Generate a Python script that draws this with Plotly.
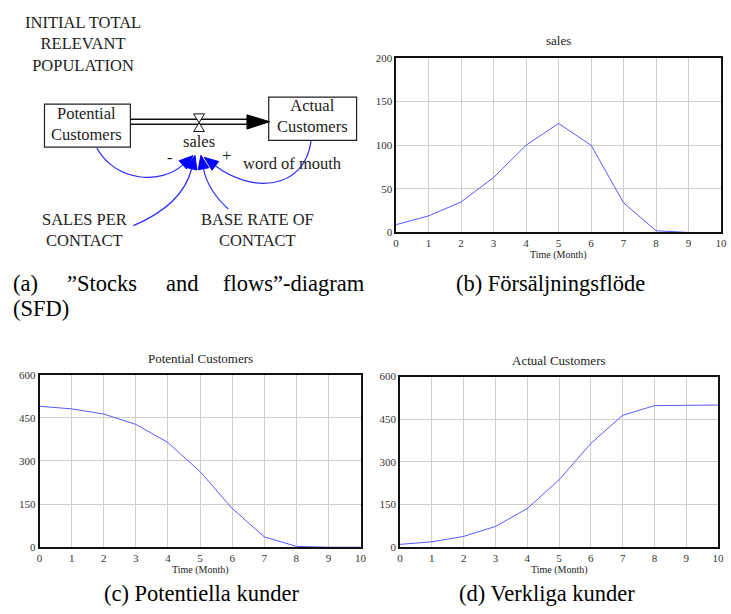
import math
import plotly.graph_objects as go

# ---------------- data ----------------
months = [0, 1, 2, 3, 4, 5, 6, 7, 8, 9, 10]
sales = [9, 19, 35, 63, 100, 125, 100, 34, 2, 0, 0]
potential_customers = [490, 481, 463, 427, 364, 263, 135, 36, 3, 0, 0]
actual_customers = [10, 19, 38, 73, 136, 237, 365, 464, 498, 500, 500]

x_ticks = [0, 1, 2, 3, 4, 5, 6, 7, 8, 9, 10]
sales_ticks = [0, 50, 100, 150, 200]
customer_ticks = [0, 150, 300, 450, 600]

W, H = 731, 614
SERIF = "Liberation Serif"
LINE = "#5a5aff"


def dom_x(a, b):
    return [a / W, b / W]


def dom_y(top, bottom):
    return [1 - bottom / H, 1 - top / H]


fig = go.Figure()

fig.add_trace(go.Scatter(x=months, y=sales, mode="lines",
                         line=dict(color=LINE, width=1), xaxis="x", yaxis="y"))
fig.add_trace(go.Scatter(x=months, y=potential_customers, mode="lines",
                         line=dict(color=LINE, width=1), xaxis="x2", yaxis="y2"))
fig.add_trace(go.Scatter(x=months, y=actual_customers, mode="lines",
                         line=dict(color=LINE, width=1), xaxis="x3", yaxis="y3"))

tickfont = dict(family=SERIF, size=11, color="#333")


def xax(domain, anchor):
    return dict(domain=domain, anchor=anchor, range=[0, 10], tickvals=x_ticks,
                showline=True, mirror=True, linecolor="#111", linewidth=1.5,
                showgrid=True, gridcolor="#cfcfcf", gridwidth=1, zeroline=False,
                ticks="", ticklabelstandoff=0, tickfont=tickfont, fixedrange=True)


def yax(domain, anchor, rng, tv):
    return dict(domain=domain, anchor=anchor, range=rng, tickvals=tv,
                showline=True, mirror=True, linecolor="#111", linewidth=1.5,
                showgrid=True, gridcolor="#cfcfcf", gridwidth=1, zeroline=False,
                ticks="", tickfont=tickfont, fixedrange=True)


fig.update_layout(
    xaxis=xax(dom_x(398, 727), "y"),
    yaxis=yax(dom_y(53, 231), "x", [0, 200], sales_ticks),
    xaxis2=xax(dom_x(37, 362), "y2"),
    yaxis2=yax(dom_y(376, 552), "x2", [0, 600], customer_ticks),
    xaxis3=xax(dom_x(402, 724), "y3"),
    yaxis3=yax(dom_y(378, 552), "x3", [0, 600], customer_ticks),
    xaxis4=dict(domain=[0, 1], anchor="y4", range=[0, W], visible=False, fixedrange=True),
    yaxis4=dict(domain=[0, 1], anchor="x4", range=[H, 0], visible=False, fixedrange=True),
)

shapes = []
annotations = []


def text(x, y, s, size=16.5, xanchor="center", color="#222", yanchor="middle"):
    annotations.append(dict(x=x, y=y, xref="x4", yref="y4", text=s, showarrow=False,
                            xanchor=xanchor, yanchor=yanchor,
                            font=dict(family=SERIF, size=size, color=color)))


# subplot titles & axis titles
text(562, 35, "sales", size=13)
text(200, 360, "Potential Customers", size=13)
text(563, 362, "Actual Customers", size=13)
text(562, 254, "Time (Month)", size=10)
text(200, 575, "Time (Month)", size=10)
text(563, 575, "Time (Month)", size=10)

# ---------------- stock & flow diagram ----------------
text(81, 39, "INITIAL TOTAL<br>RELEVANT<br>POPULATION")
shapes.append(dict(type="rect", xref="x4", yref="y4", x0=42, x1=129, y0=100, y1=144,
                   line=dict(color="#222", width=1.2), fillcolor="white"))
text(85, 120, "Potential<br>Customers")
shapes.append(dict(type="rect", xref="x4", yref="y4", x0=269, x1=358, y0=93, y1=137,
                   line=dict(color="#222", width=1.2), fillcolor="white"))
text(313, 112, "Actual<br>Customers")

# pipe
for yy in (115.5, 120.5):
    shapes.append(dict(type="line", xref="x4", yref="y4", x0=129, x1=249, y0=yy, y1=yy,
                       line=dict(color="#111", width=1.5)))
shapes.append(dict(type="path", xref="x4", yref="y4",
                   path="M 247 111 L 270 118 L 247 125.5 Z",
                   fillcolor="#000", line=dict(color="#000", width=1)))
# valve
shapes.append(dict(type="path", xref="x4", yref="y4",
                   path="M 193 110 L 204 110 L 193 128 L 204 128 Z",
                   fillcolor="white", line=dict(color="#111", width=1)))
text(198, 138, "sales")


def arrow(p0, c1, c2, p3, L=14, hw=5.5):
    shapes.append(dict(type="path", xref="x4", yref="y4",
                       path=f"M {p0[0]} {p0[1]} C {c1[0]} {c1[1]}, {c2[0]} {c2[1]}, {p3[0]} {p3[1]}",
                       line=dict(color="#2a2aff", width=1.2)))
    dx, dy = p3[0] - c2[0], p3[1] - c2[1]
    n = math.hypot(dx, dy)
    ux, uy = dx / n, dy / n
    tx, ty = p3[0] + ux * L, p3[1] + uy * L
    ax, ay = p3[0] - uy * hw, p3[1] + ux * hw
    bx, by = p3[0] + uy * hw, p3[1] - ux * hw
    shapes.append(dict(type="path", xref="x4", yref="y4",
                       path=f"M {tx:.1f} {ty:.1f} L {ax:.1f} {ay:.1f} L {bx:.1f} {by:.1f} Z",
                       fillcolor="#0000ff", line=dict(color="#0000ff", width=1)))


arrow((95, 145), (115, 180), (160, 182), (182, 162))
arrow((312, 137), (305, 190), (250, 190), (215, 163))
arrow((132, 224), (165, 210), (185, 190), (191, 166))
arrow((228, 207), (215, 195), (206, 182), (203, 166))

text(169, 155, "-")
text(226, 152, "+")
text(293, 161, "word of mouth")
text(83, 228, "SALES PER<br>CONTACT")
text(258, 228, "BASE RATE OF<br>CONTACT")

# ---------------- captions ----------------
CAP = 22.5
K = "#000"
text(8, 283, "(a)", size=CAP, xanchor="left", color=K)
text(63, 283, "”Stocks", size=CAP, xanchor="left", color=K)
text(163, 283, "and", size=CAP, xanchor="left", color=K)
text(369, 283, "flows”-diagram", size=CAP, xanchor="right", color=K)
text(8, 309, "(SFD)", size=CAP, xanchor="left", color=K)
text(554, 283, "(b) Försäljningsflöde", size=CAP, color=K)
text(201, 614, "(c) Potentiella kunder", size=CAP, color=K, yanchor="bottom")
text(551, 614, "(d) Verkliga kunder", size=CAP, color=K, yanchor="bottom")

fig.update_layout(width=W, height=H, margin=dict(l=0, r=0, t=0, b=0),
                  font=dict(family=SERIF),
                  paper_bgcolor="white", plot_bgcolor="rgba(0,0,0,0)",
                  showlegend=False, shapes=shapes, annotations=annotations)

fig.write_html("out.html", config={"displayModeBar": False},
               post_script="document.body.style.margin='0';document.body.style.padding='0';")
